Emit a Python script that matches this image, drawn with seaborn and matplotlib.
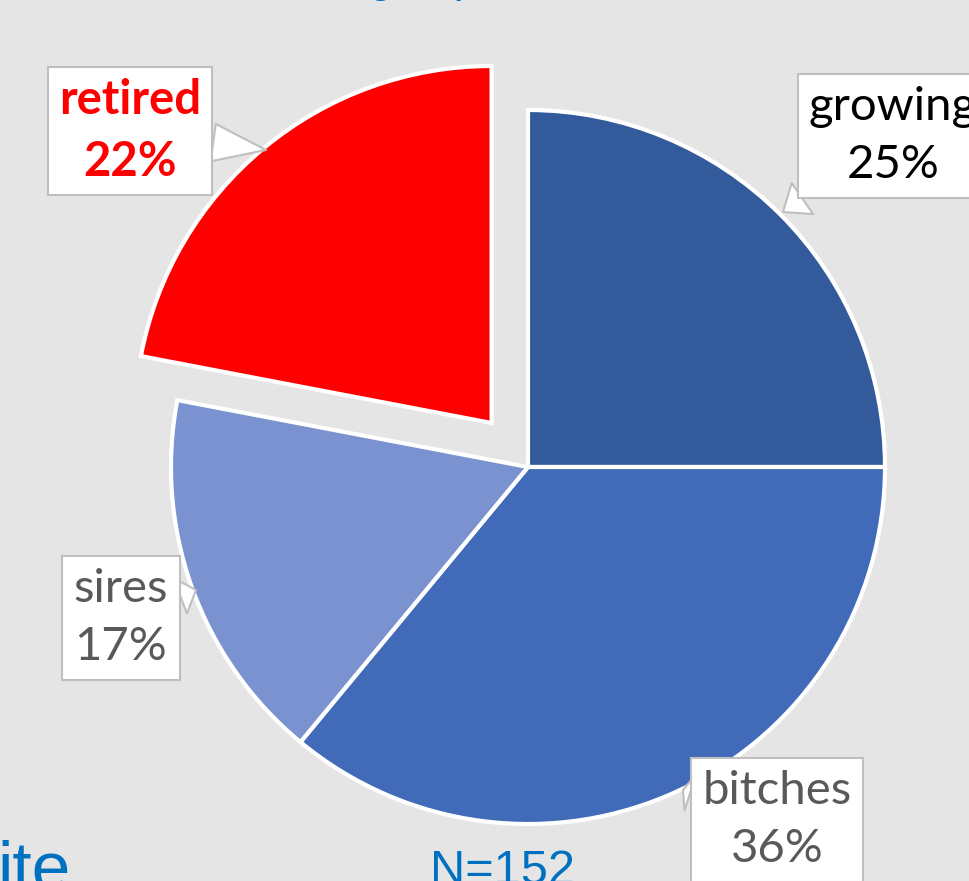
import seaborn as sns
import matplotlib.pyplot as plt

# Data ##
#########
groups = ["growing", "bitches", "sires", "retired"]
shares = [25, 36, 17, 22]
colors = ["#335A9B", "#416BB8", "#7A92CF", "#FF0000"]
explode = [0, 0, 0, 0.16]
n_total = 152

sns.set_style("white")
plt.rcParams["font.family"] = ["Lato", "DejaVu Sans"]

BG = "#E5E5E5"
fig = plt.figure(figsize=(9.69, 8.81), dpi=100, facecolor=BG)
ax = fig.add_axes([0, 0, 1, 1])
ax.set_facecolor(BG)

# pie centre at pixel (528, 467), radius 357 px
CX, CY, R = 528, 467, 357
W, H = 969, 881


def px(x, y):
    # pixel (from top-left) -> data coords
    return (x - CX) / R, (CY - y) / R


wedges, _ = ax.pie(shares, colors=colors, explode=explode, startangle=90,
                   counterclock=False,
                   wedgeprops=dict(edgecolor="white", linewidth=3))
ax.set_xlim(-CX / R, (W - CX) / R)
ax.set_ylim((CY - H) / R, CY / R)
ax.set_aspect("auto")
ax.axis("off")

# callout labels
callouts = {
    "growing": dict(box=(893, 136), tip=(783, 212), color="black", weight="normal"),
    "bitches": dict(box=(777, 820), tip=(683, 790), color="#595959", weight="normal"),
    "sires": dict(box=(121, 618), tip=(196, 590), color="#595959", weight="normal"),
    "retired": dict(box=(130, 131), tip=(266, 150), color="#FF0000", weight="bold"),
}
for g, s in zip(groups, shares):
    c = callouts[g]
    ax.annotate(f"{g}\n{s}%", xy=px(*c["tip"]), xytext=px(*c["box"]),
                ha="center", va="center", fontsize=34, color=c["color"],
                fontweight=c["weight"], linespacing=1.5,
                bbox=dict(boxstyle="square,pad=0.24", fc="white", ec="#BFBFBF", lw=1.5),
                arrowprops=dict(arrowstyle="wedge,tail_width=0.8", fc="white",
                                ec="#BFBFBF", lw=1.5, shrinkA=0, shrinkB=0))

blue = "#0070C0"
fig.text(502 / W, 1 - 884 / H, f"N={n_total}", ha="center", va="baseline",
         fontsize=35, color=blue, family="Liberation Sans")
fig.text(-3 / W, 1 - 889 / H, "ite", ha="left", va="baseline",
         fontsize=50, color=blue, family="Liberation Sans")
fig.text(276 / W, 1 - (-6) / H, "Animals in each group", ha="center", va="baseline",
         fontsize=30, color=blue)

plt.savefig("out.png", dpi=100, facecolor=BG)
